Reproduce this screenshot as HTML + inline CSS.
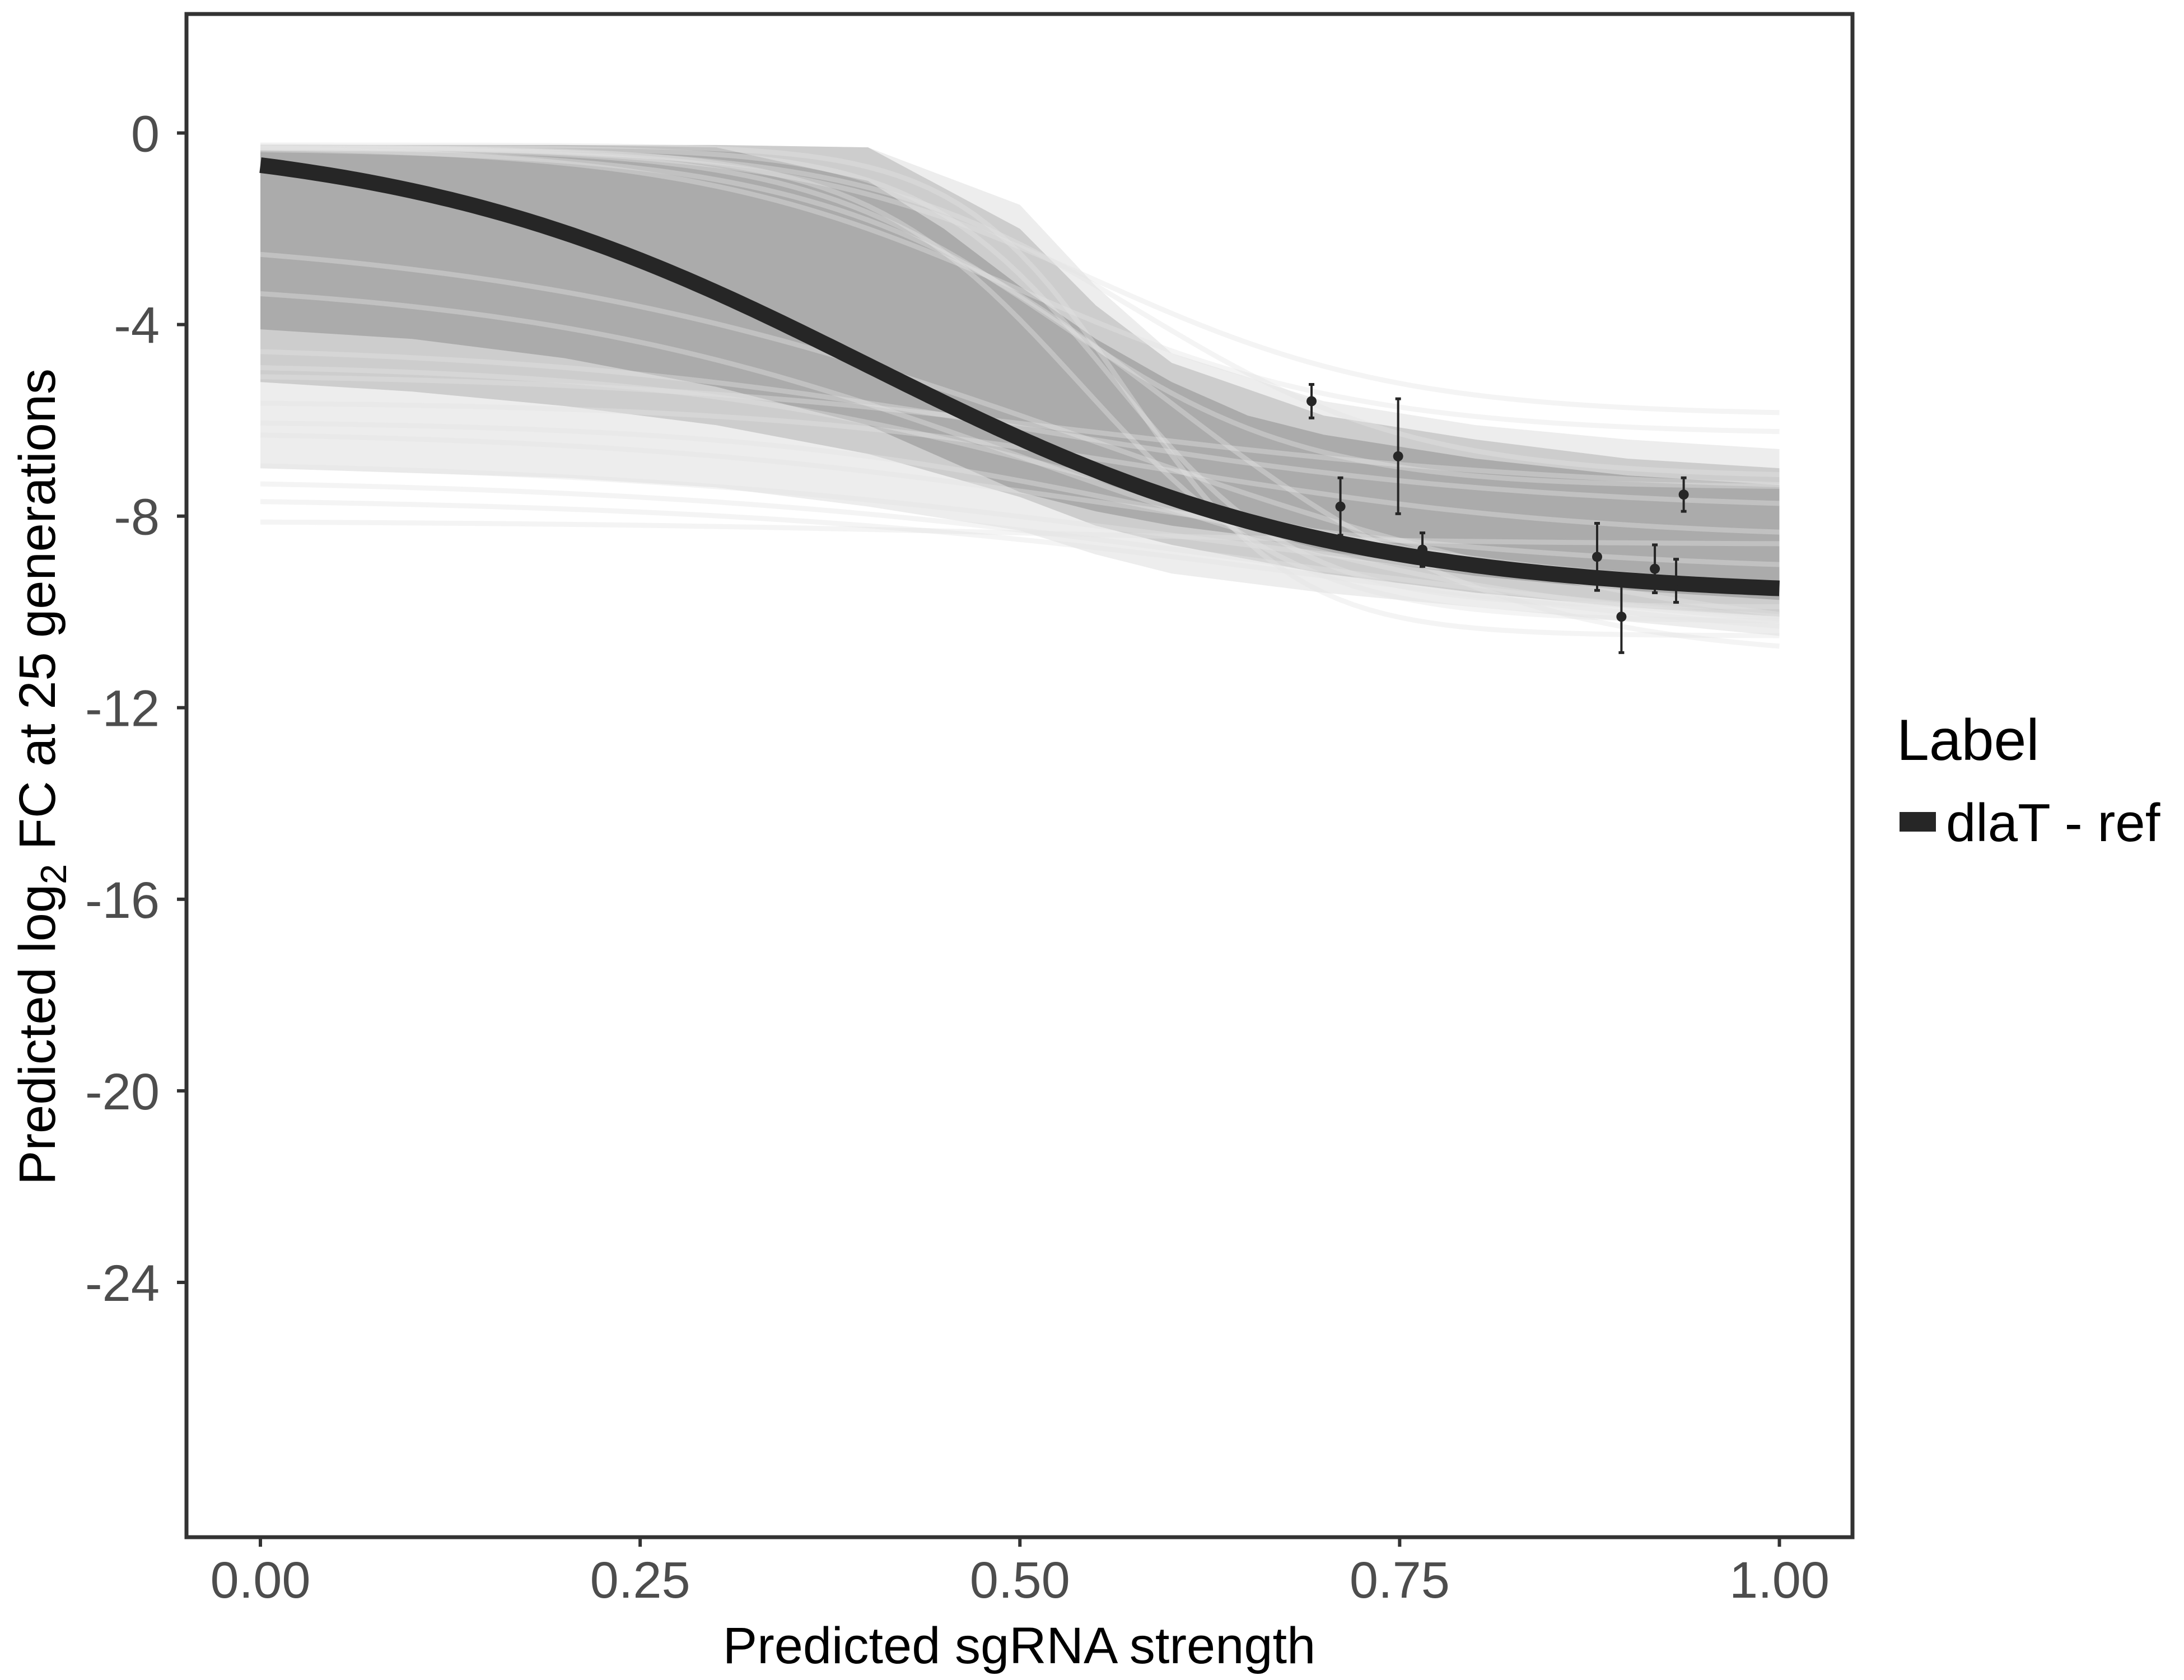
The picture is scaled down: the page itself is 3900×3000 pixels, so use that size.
<!DOCTYPE html>
<html><head><meta charset="utf-8"><style>
html,body{margin:0;padding:0;background:#fff}
svg{display:block;font-family:"Liberation Sans",Arial,sans-serif}
</style></head><body>
<svg id="chart" width="3900" height="3000" viewBox="0 0 3900 3000" xmlns="http://www.w3.org/2000/svg">
<rect x="0" y="0" width="3900" height="3000" fill="#fff"/>
<g id="plot"></g>
<rect x="333" y="25" width="2975" height="2720" fill="none" stroke="#333" stroke-width="7"/>
<g id="axes"></g>
<text x="1820" y="2970" font-size="92" text-anchor="middle" fill="#000">Predicted sgRNA strength</text>
<text transform="translate(98,1387) rotate(-90)" font-size="92" text-anchor="middle" fill="#000">Predicted  log<tspan font-size="65" dy="20">2</tspan><tspan dy="-20"> FC at 25 generations</tspan></text>
<g>
<text x="3387" y="1357" font-size="104" fill="#000">Label</text>
<rect x="3392" y="1450" width="65" height="35" fill="#262626"/>
<text x="3475" y="1502" font-size="96" fill="#000">dlaT - ref</text>
</g>
</svg>
<script>
const xTicks = [0, 0.25, 0.5, 0.75, 1];
const xTickLabels = ["0.00", "0.25", "0.50", "0.75", "1.00"];
const yTicks = [0, -4, -8, -12, -16, -20, -24];
const yTickLabels = ["0", "-4", "-8", "-12", "-16", "-20", "-24"];
// light (sparse) posterior envelope
const lightX = [0, 0.1, 0.2, 0.3, 0.4, 0.5, 0.55, 0.6, 0.7, 0.8, 0.9, 1.0];
const lightUpper = [-0.25, -0.25, -0.25, -0.25, -0.3, -1.5, -3.2, -4.6, -5.6, -6.1, -6.4, -6.6];
const lightLower = [-7.0, -7.1, -7.2, -7.4, -7.8, -8.3, -8.8, -9.2, -9.6, -9.9, -10.2, -10.5];
// medium posterior envelope
const midX = [0, 0.1, 0.2, 0.3, 0.4, 0.5, 0.55, 0.6, 0.7, 0.8, 0.9, 1.0];
const midUpper = [-0.25, -0.25, -0.25, -0.25, -0.3, -2.0, -3.6, -4.8, -5.9, -6.4, -6.8, -7.0];
const midLower = [-5.2, -5.4, -5.7, -6.1, -6.7, -7.6, -8.2, -8.6, -9.2, -9.6, -9.9, -10.1];
// dense posterior band envelope
const bandX = [0, 0.1, 0.2, 0.3, 0.4, 0.45, 0.5, 0.55, 0.6, 0.65, 0.7, 0.8, 0.9, 1.0];
const bandUpper = [-0.25, -0.25, -0.25, -0.3, -1.0, -2.0, -3.2, -4.3, -5.2, -5.9, -6.3, -6.8, -7.15, -7.35];
const bandLower = [-4.1, -4.3, -4.7, -5.3, -6.1, -6.8, -7.5, -7.9, -8.2, -8.4, -8.8, -9.25, -9.55, -9.75];
// light posterior draws: start, end, midpoint, steepness
const drawStart = [-0.25, -0.25, -0.3, -0.25, -0.3, -5.0, -5.6, -6.2, -6.8, -7.2, -7.6, -8.1, -0.3, -0.3, -4.4, -4.8, -0.3, -2.0, -3.0, -6.0];
const drawEnd = [-5.9, -6.3, -7.4, -10.5, -11.0, -7.5, -8.5, -9.2, -10.0, -10.6, -10.9, -8.6, -9.9, -10.2, -7.9, -9.6, -7.2, -10.9, -10.5, -9.8];
const drawMid = [0.55, 0.5, 0.52, 0.57, 0.6, 0.55, 0.6, 0.55, 0.6, 0.65, 0.7, 0.5, 0.56, 0.54, 0.5, 0.55, 0.58, 0.55, 0.5, 0.6];
const drawK = [10, 9, 12, 18, 9, 6, 7, 6, 5, 5, 5, 6, 16, 14, 6, 7, 11, 5, 6, 7];
// fitted curve
const fitStart = 0;
const fitEnd = -9.7;
const fitMid = 0.4;
const fitK = 6.5;
// observed points
const ptX = [0.692, 0.711, 0.749, 0.765, 0.880, 0.896, 0.918, 0.932, 0.937];
const ptY = [-5.6, -7.8, -6.75, -8.7, -8.85, -10.1, -9.1, -9.35, -7.55];
const ptErr = [0.35, 0.6, 1.2, 0.35, 0.7, 0.75, 0.5, 0.45, 0.35];

const NS = "http://www.w3.org/2000/svg";
const X = v => 465 + v * (3177.5 - 465);
const Y = v => 237.5 - v * 85.52;
function mk(tag, attrs, parent) {
  const e = document.createElementNS(NS, tag);
  for (const k in attrs) e.setAttribute(k, attrs[k]);
  parent.appendChild(e);
  return e;
}
const sig = (a, b, m, k, x) => a + (b - a) / (1 + Math.exp(-k * (x - m)));
const plot = document.getElementById('plot');
const axes = document.getElementById('axes');
function bandPath(xs, up, lo) {
  let d = xs.map((x, i) => (i ? 'L' : 'M') + X(x) + ',' + Y(up[i])).join('');
  for (let i = xs.length - 1; i >= 0; i--) d += 'L' + X(xs[i]) + ',' + Y(lo[i]);
  return d + 'Z';
}
const lb = mk('path', {d: bandPath(lightX, lightUpper, lightLower), fill: '#ededed'}, plot);


const mb = mk('path', {d: bandPath(midX, midUpper, midLower), fill: '#cdcdcd'}, plot);


const band = mk('path', {d: bandPath(bandX, bandUpper, bandLower), fill: '#ababab'}, plot);



// light draws
for (let j = 0; j < drawStart.length; j++) {
  let p = '';
  for (let i = 0; i <= 100; i++) {
    const x = i / 100;
    p += (i ? 'L' : 'M') + X(x).toFixed(1) + ',' + Y(sig(drawStart[j], drawEnd[j], drawMid[j], drawK[j], x)).toFixed(1);
  }
  const ln = mk('path', {d: p, fill: 'none', stroke: '#e4e4e4', 'stroke-opacity': 0.4, 'stroke-width': 9}, plot);
  
  
}

// fitted curve
let fp = '';
for (let i = 0; i <= 200; i++) {
  const x = i / 200;
  fp += (i ? 'L' : 'M') + X(x).toFixed(1) + ',' + Y(sig(fitStart, fitEnd, fitMid, fitK, x)).toFixed(1);
}
const fit = mk('path', {d: fp, fill: 'none', stroke: '#262626', 'stroke-width': 28}, plot);



// points
for (let i = 0; i < ptX.length; i++) {
  const g = mk('g', {}, plot);
  
  
  const cx = X(ptX[i]);
  mk('line', {x1: cx, x2: cx, y1: Y(ptY[i] + ptErr[i]), y2: Y(ptY[i] - ptErr[i]), stroke: '#262626', 'stroke-width': 4}, g);
  mk('line', {x1: cx - 5, x2: cx + 5, y1: Y(ptY[i] + ptErr[i]), y2: Y(ptY[i] + ptErr[i]), stroke: '#262626', 'stroke-width': 5}, g);
  mk('line', {x1: cx - 5, x2: cx + 5, y1: Y(ptY[i] - ptErr[i]), y2: Y(ptY[i] - ptErr[i]), stroke: '#262626', 'stroke-width': 5}, g);
  mk('circle', {cx: cx, cy: Y(ptY[i]), r: 9, fill: '#262626'}, g);
}

// axes ticks
xTicks.forEach((v, i) => {
  const t = mk('line', {x1: X(v), x2: X(v), y1: 2748, y2: 2762, stroke: '#333', 'stroke-width': 6}, axes);
  
  
  const l = mk('text', {x: X(v), y: 2853, 'font-size': 92, fill: '#4d4d4d', 'text-anchor': 'middle'}, axes);
  l.textContent = xTickLabels[i];
  
  
});
yTicks.forEach((v, i) => {
  const t = mk('line', {x1: 316, x2: 330, y1: Y(v), y2: Y(v), stroke: '#333', 'stroke-width': 6}, axes);
  
  
  const l = mk('text', {x: 285, y: Y(v) + 33, 'font-size': 92, fill: '#4d4d4d', 'text-anchor': 'end'}, axes);
  l.textContent = yTickLabels[i];
  
  
});
</script>
</body></html>
